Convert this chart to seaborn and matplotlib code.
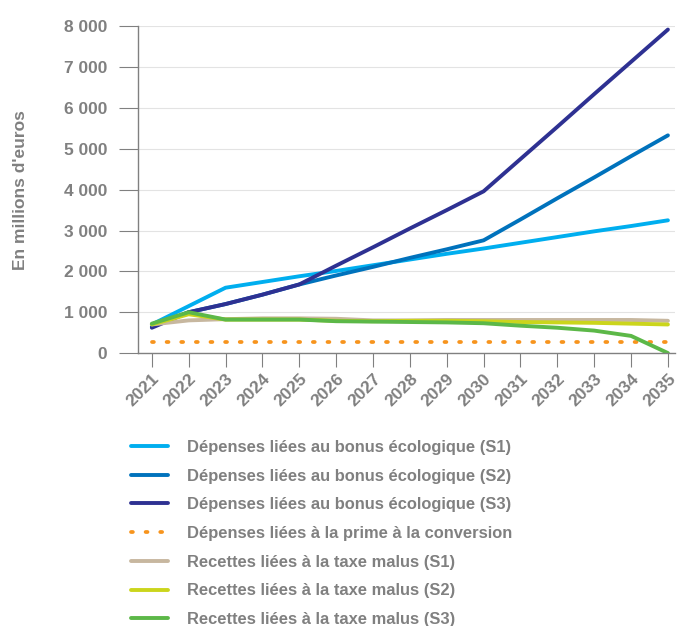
import pandas as pd
import matplotlib.pyplot as plt
import seaborn as sns

# Data (millions d'euros)
years = list(range(2021, 2036))
bonus_s1 = [700, 1150, 1600, 1740, 1880, 2010, 2150, 2290, 2430, 2560, 2700, 2840, 2980, 3110, 3250]
bonus_s2 = [650, 1000, 1200, 1430, 1680, 1900, 2110, 2330, 2540, 2760, 3270, 3790, 4300, 4820, 5330]
bonus_s3 = [620, 1000, 1200, 1430, 1680, 2140, 2590, 3050, 3500, 3960, 4750, 5540, 6340, 7130, 7920]
prime_conv = [280] * 15
malus_s1 = [700, 800, 830, 850, 850, 840, 800, 800, 810, 810, 810, 810, 810, 810, 790]
malus_s2 = [700, 950, 820, 820, 820, 790, 780, 790, 790, 780, 760, 750, 740, 720, 700]
malus_s3 = [720, 1000, 820, 820, 820, 780, 770, 760, 750, 730, 670, 620, 550, 420, 0]

labels = [
    "Dépenses liées au bonus écologique (S1)",
    "Dépenses liées au bonus écologique (S2)",
    "Dépenses liées au bonus écologique (S3)",
    "Dépenses liées à la prime à la conversion",
    "Recettes liées à la taxe malus (S1)",
    "Recettes liées à la taxe malus (S2)",
    "Recettes liées à la taxe malus (S3)",
]
series = [bonus_s1, bonus_s2, bonus_s3, prime_conv, malus_s1, malus_s2, malus_s3]
colors = ["#00aeef", "#0072bc", "#2e3192", "#f7941d", "#c7b79f", "#cbd51c", "#5cb848"]

sns.set_style("white")
plt.rcParams['font.family'] = ['Liberation Sans', 'DejaVu Sans']
plt.rcParams['font.weight'] = 'bold'
grey = "#808080"

fig = plt.figure(figsize=(6.79, 6.26), dpi=100)
ax = fig.add_axes([0.203, 0.436, 0.791, 0.522])

x = list(range(len(years)))
for vals, lab, col in zip(series, labels, colors):
    df = pd.DataFrame({"x": x, "y": vals})
    if "prime" in lab:
        sns.lineplot(data=df, x="x", y="y", ax=ax, color=col, linewidth=2.7,
                     linestyle=(0, (0.5, 3.4)), dash_capstyle='round', label=lab)
    else:
        sns.lineplot(data=df, x="x", y="y", ax=ax, color=col, linewidth=2.8, label=lab)

ax.set_xlim(-0.38, 14.19)
ax.set_ylim(0, 8000)
ax.set_yticks(range(0, 8001, 1000))
ax.set_yticklabels([f"{v:,}".replace(",", " ") for v in range(0, 8001, 1000)])
ax.set_xticks(x)
ax.set_xticklabels(years, rotation=45, ha="right", rotation_mode="anchor")
ax.grid(axis="y", color="#e3e3e3", linewidth=0.8)
ax.set_axisbelow(True)

for s in ["top", "right"]:
    ax.spines[s].set_visible(False)
for s in ["left", "bottom"]:
    ax.spines[s].set_color(grey)
    ax.spines[s].set_linewidth(1)
ax.tick_params(axis="y", length=14, color=grey, labelcolor=grey, labelsize=12.5, pad=8)
ax.tick_params(axis="x", length=10, color=grey, labelcolor=grey, labelsize=12.5, pad=3)
ax.tick_params(axis="both", direction="out", left=True, bottom=True)

ax.set_xlabel("")
ax.set_ylabel("En millions d'euros", color=grey, fontsize=12.5, fontweight="bold", labelpad=26)

leg = ax.legend(loc="upper left", bbox_to_anchor=(-0.04, -0.22), frameon=False,
                fontsize=11.9, handlelength=2.2, handletextpad=1.2, labelspacing=0.83)
for t in leg.get_texts():
    t.set_color(grey)

fig.savefig("out.png", dpi=100)
